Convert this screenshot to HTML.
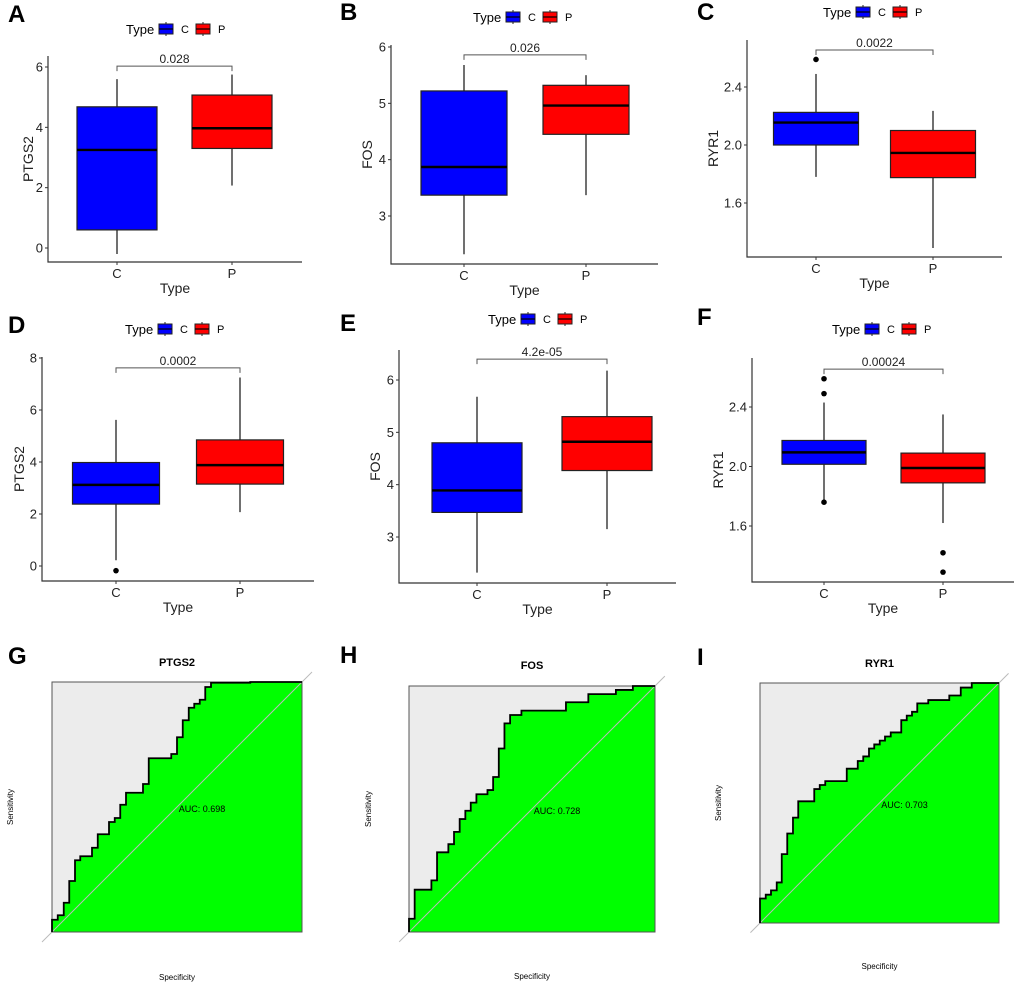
<!DOCTYPE html>
<html><head><meta charset="utf-8">
<style>
html,body{margin:0;padding:0;background:#fff;}
svg{display:block;font-family:"Liberation Sans",Arial,sans-serif;}
</style></head>
<body>
<svg id="fig" width="1020" height="986" viewBox="0 0 1020 986" xmlns="http://www.w3.org/2000/svg"></svg>
<script>
// ---- Box plot data (per panel) ----
const boxGenes = ["PTGS2","FOS","RYR1","PTGS2","FOS","RYR1"];
const boxPValues = ["0.028","0.026","0.0022","0.0002","4.2e-05","0.00024"];
const boxCategories = ["C","P"];
// [whiskerLow, q1, median, q3, whiskerHigh]
const statsC = [
  [-0.2, 0.6, 3.25, 4.68, 5.6],
  [2.32, 3.37, 3.87, 5.22, 5.68],
  [1.78, 2.0, 2.155, 2.225, 2.49],
  [0.22, 2.38, 3.12, 3.98, 5.62],
  [2.32, 3.47, 3.89, 4.8, 5.68],
  [1.77, 2.015, 2.095, 2.175, 2.43]
];
const statsP = [
  [2.07, 3.3, 3.97, 5.07, 5.75],
  [3.37, 4.45, 4.96, 5.32, 5.5],
  [1.29, 1.775, 1.945, 2.10, 2.235],
  [2.07, 3.15, 3.88, 4.85, 7.25],
  [3.15, 4.27, 4.82, 5.3, 6.18],
  [1.62, 1.89, 1.99, 2.09, 2.35]
];
const outliersC = [[],[],[2.59],[-0.18],[],[2.59,2.49,1.76]];
const outliersP = [[],[],[],[],[],[1.42,1.29]];
const bracketValues = [6.03, 5.86, 2.655, 7.62, 6.4, 2.655];
const yTicks = [
  ["0","2","4","6"],
  ["3","4","5","6"],
  ["1.6","2.0","2.4"],
  ["0","2","4","6","8"],
  ["3","4","5","6"],
  ["1.6","2.0","2.4"]
];
// ---- ROC data ----
const rocGenes = ["PTGS2","FOS","RYR1"];
const rocAUC = ["0.698","0.728","0.703"];
const rocFprG = [0,.023,.047,.069,.092,.113,.16,.183,.228,.251,.273,.296,.364,.387,.477,.5,.523,.547,.569,.591,.613,.636,.793];
const rocTprG = [.049,.067,.117,.204,.287,.303,.337,.391,.44,.456,.509,.557,.592,.695,.712,.779,.847,.897,.913,.929,.98,.997,1];
const rocFprH = [0,.023,.091,.114,.16,.183,.206,.229,.251,.274,.319,.342,.365,.388,.411,.457,.638,.729,.841,.91];
const rocTprH = [.054,.172,.21,.324,.357,.407,.459,.493,.526,.56,.577,.63,.746,.848,.882,.9,.934,.967,.984,1];
const rocFprI = [0,.024,.046,.07,.091,.114,.138,.16,.227,.25,.273,.363,.409,.432,.456,.478,.501,.523,.547,.591,.614,.636,.658,.704,.792,.84,.886];
const rocTprI = [.102,.118,.136,.169,.287,.373,.439,.507,.558,.575,.591,.643,.675,.694,.727,.744,.76,.777,.794,.845,.864,.88,.915,.929,.948,.981,1];

// ---- layout (pixels) ----
const boxLayout = [
  {L:48,R:302,T:56,B:262,v0:0,p0:248,v1:6,p1:67,cx:[117,232],bw:80,ytx:28,leg:[126,29],letter:"A",lx:8,ly:22},
  {L:391,R:658,T:45,B:264,v0:3,p0:216,v1:6,p1:47,cx:[464,586],bw:86,ytx:367,leg:[473,17],letter:"B",lx:340,ly:20},
  {L:747,R:1002,T:40,B:257,v0:1.6,p0:203,v1:2.4,p1:87,cx:[816,933],bw:85,ytx:713,leg:[823,12],letter:"C",lx:697,ly:20},
  {L:42,R:314,T:357,B:581,v0:0,p0:566,v1:8,p1:358,cx:[116,240],bw:87,ytx:19,leg:[125,329],letter:"D",lx:8,ly:333},
  {L:399,R:676,T:350,B:583,v0:3,p0:537,v1:6,p1:380,cx:[477,607],bw:90,ytx:375,leg:[488,319],letter:"E",lx:340,ly:331},
  {L:752,R:1014,T:358,B:582,v0:1.6,p0:526,v1:2.4,p1:407,cx:[824,943],bw:84,ytx:718,leg:[832,329],letter:"F",lx:697,ly:325}
];
const rocLayout = [
  {x0:52,x1:302,y0:932,y1:682,letter:"G",lx:8,ly:664,tY:666,sensX:10,specY:980},
  {x0:409,x1:655,y0:932,y1:686,letter:"H",lx:340,ly:663,tY:669,sensX:368,specY:979},
  {x0:760,x1:999,y0:923,y1:683,letter:"I",lx:697,ly:665,tY:667,sensX:718,specY:969}
];
const rocF = [rocFprG, rocFprH, rocFprI];
const rocT = [rocTprG, rocTprH, rocTprI];

const svg = document.getElementById('fig');
const NS = "http://www.w3.org/2000/svg";
function mk(tag, attrs, parent, text){
  const e = document.createElementNS(NS, tag);
  for (const k in attrs) e.setAttribute(k, attrs[k]);
  if (text !== undefined) e.textContent = text;
  (parent || svg).appendChild(e);
  return e;
}
const fillColors = ["#0000ff","#ff0000"];

boxLayout.forEach((lay, i) => {
  const g = mk('g', {});
  
  
  const y = v => lay.p0 + (v - lay.v0) * (lay.p1 - lay.p0) / (lay.v1 - lay.v0);
  const lt = mk('text', {x:lay.lx, y:lay.ly, 'font-size':24, 'font-weight':'bold'}, g, lay.letter);
  
  
  // legend
  const lg = mk('g', {}, g);
  
  
  const lx = lay.leg[0], ly = lay.leg[1];
  mk('text', {x:lx, y:ly+5, 'font-size':13}, lg, "Type");
  boxCategories.forEach((c, k) => {
    const bx = lx + 33 + k*37;
    const key = mk('g', {}, lg);
    
    
    mk('line', {x1:bx+7, x2:bx+7, y1:ly-7, y2:ly+7, stroke:'#222', 'stroke-width':1}, key);
    mk('rect', {x:bx, y:ly-5, width:14, height:10, fill:fillColors[k], stroke:'#222', 'stroke-width':1}, key);
    mk('line', {x1:bx, x2:bx+14, y1:ly, y2:ly, stroke:'#000', 'stroke-width':1.2}, key);
    mk('text', {x:bx+22, y:ly+4, 'font-size':11}, key, c);
  });
  // axes
  const ax = mk('g', {}, g);
  
  
  mk('polyline', {points:`${lay.L},${lay.T} ${lay.L},${lay.B} ${lay.R},${lay.B}`, fill:'none', stroke:'#333', 'stroke-width':1.2}, ax);
  yTicks[i].forEach(t => {
    const py = y(parseFloat(t));
    mk('line', {x1:lay.L-3, x2:lay.L, y1:py, y2:py, stroke:'#333'}, ax);
    const tx = mk('text', {x:lay.L-5, y:py+4.5, 'font-size':13, 'text-anchor':'end', fill:'#222'}, ax, t);
    
    
  });
  boxCategories.forEach((c, k) => {
    mk('line', {x1:lay.cx[k], x2:lay.cx[k], y1:lay.B, y2:lay.B+3, stroke:'#333'}, ax);
    const tx = mk('text', {x:lay.cx[k], y:lay.B+16, 'font-size':13, 'text-anchor':'middle', fill:'#222'}, ax, c);
    
    
  });
  const xt = mk('text', {x:(lay.L+lay.R)/2, y:lay.B+31, 'font-size':14, 'text-anchor':'middle', fill:'#222'}, ax, "Type");
  
  
  const ymid = (lay.T + lay.B)/2;
  const yt = mk('text', {x:lay.ytx, y:ymid, 'font-size':14, 'text-anchor':'middle', fill:'#222', transform:`rotate(-90 ${lay.ytx} ${ymid})`, dy:5}, ax, boxGenes[i]);
  
  
  // boxes
  [statsC[i], statsP[i]].forEach((s, k) => {
    const bg = mk('g', {}, g);
    
    
    const cx = lay.cx[k], hw = lay.bw/2;
    mk('line', {x1:cx, x2:cx, y1:y(s[0]), y2:y(s[4]), stroke:'#111', 'stroke-width':1.2}, bg);
    mk('rect', {x:cx-hw, y:y(s[3]), width:lay.bw, height:y(s[1])-y(s[3]), fill:fillColors[k], stroke:'#222', 'stroke-width':1.2}, bg);
    mk('line', {x1:cx-hw, x2:cx+hw, y1:y(s[2]), y2:y(s[2]), stroke:'#000', 'stroke-width':2.4}, bg);
    const outs = k === 0 ? outliersC[i] : outliersP[i];
    outs.forEach(v => {
      const o = mk('circle', {cx:cx, cy:y(v), r:2.8, fill:'#000'}, bg);
      
      
    });
  });
  // significance bracket
  const br = mk('g', {}, g);
  
  
  const by = y(bracketValues[i]);
  mk('polyline', {points:`${lay.cx[0]},${by+5} ${lay.cx[0]},${by} ${lay.cx[1]},${by} ${lay.cx[1]},${by+5}`, fill:'none', stroke:'#555', 'stroke-width':1}, br);
  mk('text', {x:(lay.cx[0]+lay.cx[1])/2, y:by-3, 'font-size':12, 'text-anchor':'middle', fill:'#222'}, br, boxPValues[i]);
});

rocLayout.forEach((lay, i) => {
  const g = mk('g', {});
  
  
  const X = f => lay.x0 + f * (lay.x1 - lay.x0);
  const Y = t => lay.y0 + t * (lay.y1 - lay.y0);
  const lt = mk('text', {x:lay.lx, y:lay.ly, 'font-size':24, 'font-weight':'bold'}, g, lay.letter);
  
  
  const cx = (lay.x0 + lay.x1)/2, cy = (lay.y0 + lay.y1)/2;
  const tt = mk('text', {x:cx, y:lay.tY, 'font-size':11, 'font-weight':'bold', 'text-anchor':'middle'}, g, rocGenes[i]);
  
  
  mk('rect', {x:lay.x0, y:lay.y1, width:lay.x1-lay.x0, height:lay.y0-lay.y1, fill:'#ececec', stroke:'none'}, g);
  const fpr = rocF[i], tpr = rocT[i];
  let d = `M${X(0)},${Y(0)}`;
  let pts = [];
  for (let j = 0; j < fpr.length; j++) {
    d += ` L${X(fpr[j])},${Y(j===0?0:tpr[j-1])} L${X(fpr[j])},${Y(tpr[j])}`;
  }
  d += ` L${X(1)},${Y(tpr[tpr.length-1])}`;
  const area = mk('path', {d: d + ` L${X(1)},${Y(0)} Z`, fill:'#00ff00', stroke:'none'}, g);
  
  
  const diag = mk('line', {x1:X(-0.04), y1:Y(-0.04), x2:X(1.04), y2:Y(1.04), stroke:'#bbb', 'stroke-width':1}, g);
  
  
  mk('rect', {x:lay.x0, y:lay.y1, width:lay.x1-lay.x0, height:lay.y0-lay.y1, fill:'none', stroke:'#555', 'stroke-width':1}, g);
  const curve = mk('path', {d:d, fill:'none', stroke:'#000', 'stroke-width':1.8}, g);
  
  
  const at = mk('text', {x:cx+25, y:cy+5, 'font-size':9, 'text-anchor':'middle'}, g, "AUC: " + rocAUC[i]);
  
  
  const sx = mk('text', {x:lay.sensX, y:cy, 'font-size':8, 'text-anchor':'middle', transform:`rotate(-90 ${lay.sensX} ${cy})`, dy:3}, g, "Sensitivity");
  
  
  const sp = mk('text', {x:cx, y:lay.specY, 'font-size':8, 'text-anchor':'middle'}, g, "Specificity");
  
  
});
</script>
</body></html>
